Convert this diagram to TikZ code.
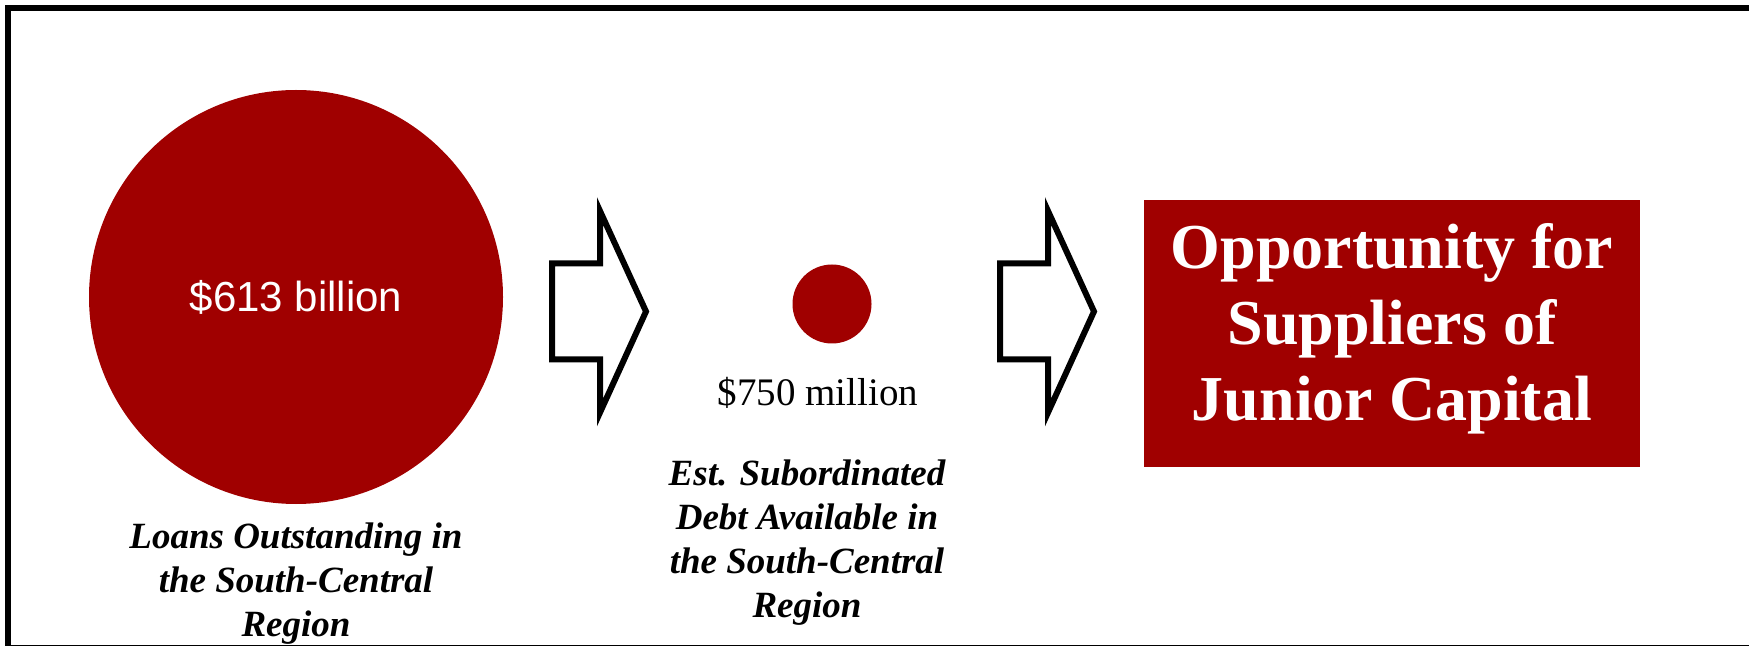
\documentclass[tikz,border=0pt]{standalone}
\usepackage{fontspec}
\setmainfont{Liberation Serif}
\newfontfamily\arialfont{Liberation Sans}
\definecolor{darkred}{RGB}{160,0,0}
\begin{document}
\begin{tikzpicture}[x=0.5pt,y=-0.5pt,
  frame/.style={draw=black, line width=2.75pt},
  blockarrow/.style={draw=black, line width=3pt, fill=white, line join=miter},
  disc/.style={circle, fill=darkred, inner sep=0pt, minimum size=#1},
  caption/.style={font=\fontsize{18.5}{22}\selectfont\bfseries\itshape, align=center, inner sep=0pt},
  blockarr/.pic={\draw[blockarrow] (0,-48) -- (48,-48) -- (48,-100.5) -- (94,0) -- (48,101) -- (48,48) -- (0,48) -- cycle;}
]
\clip (0,0) rectangle (1749,646);
\draw[frame] (8,8) rectangle (1770,648);
\node[disc=207pt] (big) at (296,297) {};
\node[disc=39.5pt] (small) at (832,304) {};
\pic at (552,311.5) {blockarr};
\pic at (1000,311.5) {blockarr};
\node[font=\arialfont\fontsize{21}{25}\selectfont, text=white, inner sep=0pt] (bigval) at (big.center) {\$613 billion};
\node[font=\fontsize{19.5}{23}\selectfont, anchor=base, inner sep=0pt] (smallval) at (818,405) {\$750 million};
\node[caption, anchor=base] (smallcap) at (807,617) {Est. Subordinated\\Debt Available in\\the South-Central\\Region};
\node[caption, anchor=base] (bigcap) at (296,636) {Loans Outstanding in\\the South-Central\\Region};
\node[fill=darkred, minimum width=248pt, minimum height=133.5pt, inner sep=0pt] (opp) at (1392,333.5) {};
\node[text=white, font=\fontsize{32}{38}\selectfont\bfseries, align=center, anchor=base, inner sep=0pt] (opptext) at (1392,420) {Opportunity for\\Suppliers of\\Junior Capital};
\end{tikzpicture}
\end{document}
